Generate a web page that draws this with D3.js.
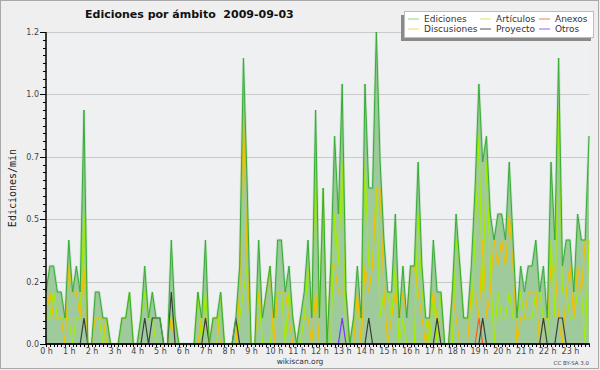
<!DOCTYPE html>
<html lang="es">
<head>
    <meta charset="UTF-8">
    <title>Ediciones por ámbito 2009-09-03</title>
    <script src="https://cdnjs.cloudflare.com/ajax/libs/d3/7.8.5/d3.min.js"></script>
    <style>
        body { margin: 0; background: #efefef; }
        text { font-family: "DejaVu Sans", sans-serif; }
        .axis path { display: none; }
        .axis line { stroke: #000; shape-rendering: crispEdges; }
        .axis text { font-size: 8px; fill: #444; }
    </style>
</head>
<body>
<script>
    // one value every 10 minutes, edits per minute
    const ediciones = [
        0.2,0.3,0.3,0.2,0.2,0.1,0.4,0.2,0.3,0.2,0.9,0,
        0,0.2,0.2,0.1,0.1,0,0,0,0.1,0.1,0.2,0,
        0,0.1,0.3,0.1,0.2,0.1,0.1,0,0,0.4,0.1,0,
        0,0,0,0,0.2,0.1,0.4,0,0.1,0.1,0.2,0,
        0,0,0.1,0.3,1.1,0.6,0,0,0.4,0.1,0.2,0.3,
        0.1,0.4,0.4,0.2,0.3,0.1,0,0.1,0.2,0.4,0.1,0.9,
        0.1,0.6,0,0.3,0.8,0.5,1.0,0.2,0,0.1,0.3,0.1,
        1.0,0.6,0.6,1.2,0.7,0.4,0.2,0.2,0.5,0.1,0.3,0.1,
        0.3,0.3,0.7,0.3,0.1,0.1,0.4,0.2,0.2,0,0,0.2,
        0.5,0.3,0.1,0.1,0.3,0.6,1.0,0.7,0.8,0.5,0.4,0.5,
        0.5,0.4,0.7,0.4,0.1,0.3,0.2,0.3,0.3,0.4,0.2,0.3,
        0.1,0.7,0.4,1.1,0.3,0.4,0.4,0.2,0.5,0.4,0.4,0.8
    ];
    const articulos = [
        0.1,0.1,0.2,0.1,0.1,0.1,0.1,0,0.1,0.1,0.5,0,
        0,0.1,0.1,0,0.1,0,0,0,0.1,0.1,0.2,0,
        0,0.1,0.2,0.1,0.1,0,0,0,0,0.1,0.1,0,
        0,0,0,0,0.2,0,0.2,0,0,0,0.2,0,
        0,0,0,0.1,0.2,0.3,0,0,0.2,0,0,0,
        0.1,0.2,0.2,0,0.2,0.1,0,0,0.1,0.3,0.1,0.7,
        0.1,0.6,0,0,0.5,0.3,0.7,0,0,0.1,0.1,0.1,
        0.7,0.3,0.3,0.6,0.1,0.2,0.2,0.1,0.3,0,0.1,0,
        0,0,0.5,0.2,0.1,0,0.2,0,0.2,0,0,0,
        0.4,0.3,0.1,0.1,0.1,0.4,0.8,0.2,0.7,0.3,0,0.2,
        0.1,0.1,0.2,0.1,0.1,0.2,0.1,0.1,0.1,0.2,0.2,0.1,
        0,0.4,0.1,0.9,0.2,0.2,0.1,0.1,0.2,0.2,0,0.4
    ];
    const discusiones = [
        0.1,0.2,0.1,0.1,0.1,0,0.3,0.2,0.2,0.1,0.3,0,
        0,0.1,0.1,0.1,0,0,0,0,0,0,0,0,
        0,0,0,0,0,0,0,0,0,0.1,0,0,
        0,0,0,0,0,0.1,0.1,0,0.1,0.1,0,0,
        0,0,0,0.2,0.9,0.3,0,0,0.2,0.1,0.2,0.3,
        0,0.2,0.2,0.2,0.1,0,0,0.1,0.1,0.1,0,0.2,
        0,0,0,0.3,0.3,0.2,0.2,0.2,0,0,0.2,0,
        0.3,0.2,0.3,0.6,0.6,0.2,0,0.1,0.2,0.1,0.2,0.1,
        0.3,0.3,0.2,0.1,0,0.1,0.2,0.1,0,0,0,0.2,
        0.1,0,0,0,0.2,0.2,0.1,0.4,0.1,0.2,0.4,0.3,
        0.4,0.3,0.5,0.3,0,0.1,0.1,0.2,0.2,0.2,0,0.1,
        0.1,0.3,0.3,0.1,0,0.2,0.3,0.1,0.3,0.2,0.4,0.4
    ];
    const anexos = [
        0,0,0,0,0,0,0,0,0,0,0,0,
        0,0,0,0,0,0,0,0,0,0,0,0,
        0,0,0,0,0,0,0,0,0,0,0,0,
        0,0,0,0,0,0,0,0,0,0,0,0,
        0,0,0,0,0,0,0,0,0,0,0,0,
        0,0,0,0,0,0,0,0,0,0,0,0,
        0,0,0,0,0,0,0,0,0,0,0,0,
        0,0,0,0,0,0,0,0,0,0,0,0,
        0,0,0,0,0,0,0,0,0,0,0,0,
        0,0,0,0,0,0,0.1,0,0,0,0,0,
        0,0,0,0,0,0,0,0,0,0,0,0,
        0,0,0,0,0,0,0,0,0,0,0,0
    ];
    const proyecto = [
        0,0,0,0,0,0,0,0,0,0,0.1,0,
        0,0,0,0,0,0,0,0,0,0,0,0,
        0,0,0.1,0,0.1,0.1,0.1,0,0,0.2,0,0,
        0,0,0,0,0,0,0.1,0,0,0,0,0,
        0,0,0.1,0,0,0,0,0,0,0,0,0,
        0,0,0,0,0,0,0,0,0,0,0,0,
        0,0,0,0,0,0,0,0,0,0,0,0,
        0,0.1,0,0,0,0,0,0,0,0,0,0,
        0,0,0,0,0,0,0,0.1,0,0,0,0,
        0,0,0,0,0,0,0,0.1,0,0,0,0,
        0,0,0,0,0,0,0,0,0,0,0,0.1,
        0,0,0,0.1,0.1,0,0,0,0,0,0,0
    ];
    const otros = [
        0,0,0,0,0,0,0,0,0,0,0,0,
        0,0,0,0,0,0,0,0,0,0,0,0,
        0,0,0,0,0,0,0,0,0,0,0,0,
        0,0,0,0,0,0,0,0,0,0,0,0,
        0,0,0,0,0,0,0,0,0,0,0,0,
        0,0,0,0,0,0,0,0,0,0,0,0,
        0,0,0,0,0,0,0.1,0,0,0,0,0,
        0,0,0,0,0,0,0,0,0,0,0,0,
        0,0,0,0,0,0,0,0,0,0,0,0,
        0,0,0,0,0,0,0,0,0,0,0,0,
        0,0,0,0,0,0,0,0,0,0,0,0,
        0,0,0,0,0,0,0,0,0,0,0,0
    ];
    const yTicks = [0, 0.24, 0.48, 0.72, 0.96, 1.2];
    const hourLabels = d3.range(24).map(h => h + " h");

    const width = 600, height = 370;
    const plotLeft = 46, plotRight = 589, plotTop = 32, plotBottom = 344;

    const xScale = d3.scaleLinear().domain([0, 143]).range([plotLeft, plotRight]);
    const yScale = d3.scaleLinear().domain([0, 1.2]).range([plotBottom, plotTop]);

    const svg = d3.select("body").append("svg")
        .attr("width", width)
        .attr("height", height);

    svg.append("rect")
        .attr("x", 0.5).attr("y", 0.5)
        .attr("width", 598).attr("height", 368)
        .attr("fill", "#efefef")
        .attr("stroke", "#a8a8a8");

    svg.append("rect")
        .attr("x", plotLeft).attr("y", plotTop)
        .attr("width", plotRight - plotLeft).attr("height", plotBottom - plotTop)
        .attr("fill", "#eef0f2");

    // grid
    svg.selectAll(".grid")
        .data(yTicks.slice(1))
        .enter()
        .append("line")
        .attr("x1", plotLeft).attr("x2", plotRight)
        .attr("y1", d => Math.round(yScale(d)) + 0.5)
        .attr("y2", d => Math.round(yScale(d)) + 0.5)
        .attr("stroke", "#cacaca");

    const line = d3.line()
        .x((d, i) => xScale(i))
        .y(d => yScale(d));
    const area = d3.area()
        .x((d, i) => xScale(i))
        .y0(plotBottom)
        .y1(d => yScale(d));

    svg.append("path")
        .datum(ediciones)
        .attr("d", area)
        .attr("fill", "#9fcb9c");

    const series = [
        {data: articulos, color: "#a4ec00"},
        {data: discusiones, color: "#f2c000"},
        {data: anexos, color: "#ff5a1e"},
        {data: proyecto, color: "#3c3c3c"},
        {data: otros, color: "#7a33ff"}
    ];
    series.forEach(function(s) {
        svg.append("path")
            .datum(s.data)
            .attr("d", line)
            .attr("fill", "none")
            .attr("stroke", s.color)
            .attr("stroke-width", 1.2);
    });

    // halo + line for the total
    svg.append("path")
        .datum(ediciones)
        .attr("d", line)
        .attr("fill", "none")
        .attr("stroke", "#5cbc5c")
        .attr("stroke-opacity", 0.25)
        .attr("stroke-width", 2.6);
    svg.append("path")
        .datum(ediciones)
        .attr("d", line)
        .attr("fill", "none")
        .attr("stroke", "#38ab38")
        .attr("stroke-width", 1);

    // y axis
    svg.append("g")
        .attr("class", "axis")
        .attr("transform", "translate(" + plotLeft + ",0)")
        .call(d3.axisLeft(yScale).tickValues(d3.range(0, 1.2001, 0.03)).tickSize(3).tickFormat(""));
    svg.append("g")
        .attr("class", "axis")
        .attr("transform", "translate(" + plotLeft + ",0)")
        .call(d3.axisLeft(yScale).tickValues(yTicks).tickSize(6).tickPadding(1).tickFormat(d3.format(".1f")));

    // x axis
    svg.append("g")
        .attr("class", "axis")
        .attr("transform", "translate(0," + plotBottom + ")")
        .call(d3.axisBottom(xScale).tickValues(d3.range(0, 144)).tickSize(3).tickFormat(""));
    svg.append("g")
        .attr("class", "axis")
        .attr("transform", "translate(0," + plotBottom + ")")
        .call(d3.axisBottom(xScale).tickValues(d3.range(0, 144, 6)).tickSize(3).tickPadding(1)
            .tickFormat(d => hourLabels[d / 6]));

    svg.append("line")
        .attr("x1", plotLeft).attr("x2", plotLeft)
        .attr("y1", plotTop).attr("y2", plotBottom)
        .attr("stroke", "#000").attr("stroke-width", 1.5);
    svg.append("line")
        .attr("x1", plotLeft).attr("x2", plotRight + 1)
        .attr("y1", plotBottom).attr("y2", plotBottom)
        .attr("stroke", "#000").attr("stroke-width", 1.5);

    // texts
    svg.append("text")
        .attr("x", 85).attr("y", 18)
        .attr("font-size", "11px")
        .attr("font-weight", "bold")
        .attr("fill", "#111")
        .attr("xml:space", "preserve")
        .text("Ediciones por ámbito  2009-09-03");

    svg.append("text")
        .attr("transform", "translate(16,188) rotate(-90)")
        .attr("text-anchor", "middle")
        .style("font-family", "'DejaVu Sans Mono', monospace")
        .attr("font-size", "10px")
        .attr("fill", "#222")
        .text("Ediciones/min");

    svg.append("text")
        .attr("x", 300).attr("y", 364)
        .attr("text-anchor", "middle")
        .attr("font-size", "7.5px")
        .attr("fill", "#333")
        .text("wikiscan.org");

    svg.append("text")
        .attr("x", 589).attr("y", 365)
        .attr("text-anchor", "end")
        .attr("font-size", "5.5px")
        .attr("fill", "#444")
        .text("CC BY-SA 3.0");

    // legend
    const legend = svg.append("g");
    legend.append("rect")
        .attr("x", 401).attr("y", 15)
        .attr("width", 190).attr("height", 26)
        .attr("fill", "#8a8a8a");
    legend.append("rect")
        .attr("x", 404.5).attr("y", 11.5)
        .attr("width", 189).attr("height", 26)
        .attr("fill", "#fff")
        .attr("stroke", "#bdbdbd");

    const legendItems = [
        {name: "Ediciones", color: "#8fd08f", col: 0, row: 0},
        {name: "Artículos", color: "#c8f060", col: 1, row: 0},
        {name: "Anexos", color: "#f08050", col: 2, row: 0},
        {name: "Discusiones", color: "#f8d860", col: 0, row: 1},
        {name: "Proyecto", color: "#555", col: 1, row: 1},
        {name: "Otros", color: "#9a5cf0", col: 2, row: 1}
    ];
    const colX = [408, 480, 539];
    const rowY = [19, 29];
    const items = legend.selectAll(".item")
        .data(legendItems)
        .enter()
        .append("g")
        .attr("transform", d => "translate(" + colX[d.col] + "," + rowY[d.row] + ")");
    items.append("line")
        .attr("x1", 0).attr("x2", 11)
        .attr("stroke", d => d.color)
        .attr("stroke-width", 1);
    items.append("text")
        .attr("x", 16).attr("y", 3)
        .attr("font-size", "9px")
        .attr("fill", "#333")
        .text(d => d.name);
</script>
</body>
</html>
